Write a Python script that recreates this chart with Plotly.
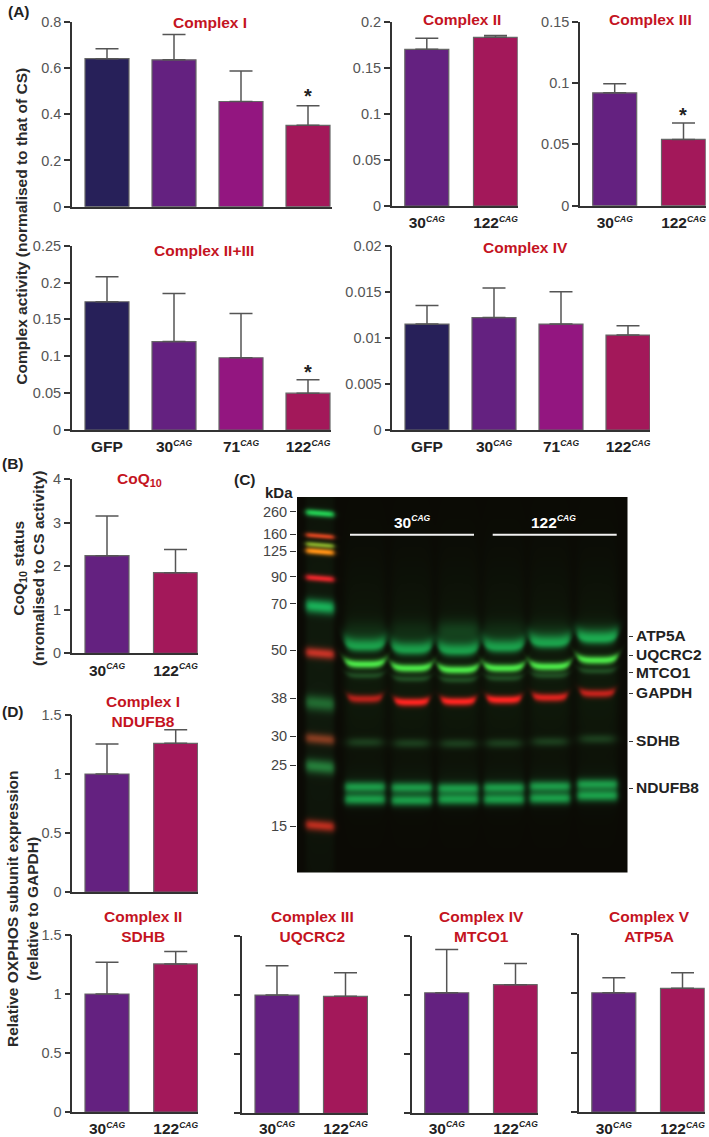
import numpy as np
import plotly.graph_objects as go

W, H = 709, 1137
FONT = "Liberation Sans"
CAG = '<sup><i><span style="font-size:8.5px">CAG</span></i></sup>'

# ---------- data ----------
cats4 = ["GFP", "30" + CAG, "71" + CAG, "122" + CAG]
cats2 = ["30" + CAG, "122" + CAG]
complex1_vals = [0.64, 0.635, 0.455, 0.352]
complex1_errs = [0.043, 0.110, 0.132, 0.085]
complex2_vals = [0.170, 0.183]
complex2_errs = [0.012, 0.002]
complex3_vals = [0.092, 0.054]
complex3_errs = [0.0075, 0.0135]
complex23_vals = [0.174, 0.120, 0.098, 0.050]
complex23_errs = [0.034, 0.065, 0.060, 0.018]
complex4_vals = [0.0115, 0.0122, 0.0115, 0.0103]
complex4_errs = [0.0020, 0.0032, 0.0035, 0.0010]
coq_vals = [2.24, 1.85]
coq_errs = [0.91, 0.53]
ndufb8_vals = [1.0, 1.26]
ndufb8_errs = [0.255, 0.115]
sdhb_vals = [1.0, 1.255]
sdhb_errs = [0.27, 0.105]
uqcrc2_vals = [1.0, 0.99]
uqcrc2_errs = [0.249, 0.20]
mtco1_vals = [1.02, 1.088]
mtco1_errs = [0.365, 0.18]
atp5a_vals = [1.005, 1.042]
atp5a_errs = [0.127, 0.132]
colors4 = ["#272059", "#642180", "#931680", "#A3185A"]
colors2 = ["#642180", "#A3185A"]

kda_labels = ["260", "160", "125", "90", "70", "50", "38", "30", "25", "15"]
kda_rows = [140, 208, 258, 335, 416, 555, 700, 814, 900, 1083]
protein_labels = ["ATP5A", "UQCRC2", "MTCO1", "GAPDH", "SDHB", "NDUFB8"]
protein_rows = [513, 570, 622, 684, 828, 969]

# blot band rows per lane (6 lanes) (zoom pixels)
lane_centres = [405, 545, 685, 822, 960, 1102]
atp5a_rows = [545, 555, 558, 548, 535, 522]
uqcrc2_rows = [598, 610, 615, 610, 605, 586]
mtco1_rows = [632, 642, 645, 640, 632, 618]
gapdh_rows = [702, 712, 710, 705, 698, 686]
gapdh_levels = [0.7, 1.0, 1.0, 1.0, 0.85, 0.75]
sdhb_rows = [832, 835, 836, 835, 830, 822]
ndufb8_hi_rows = [966, 968, 970, 968, 964, 958]
ndufb8_lo_rows = [1003, 1006, 1003, 1003, 1000, 992]
# ladder: row, sigma, r, g, b
ladder = [(145, 2.6, 20, 180, 70), (213, 2.0, 190, 45, 20), (240, 2.0, 110, 140, 30),
          (260, 2.4, 235, 120, 10), (340, 2.4, 210, 15, 30), (425, 5.0, 10, 150, 75),
          (565, 3.8, 180, 25, 25), (715, 5.5, 18, 80, 36), (822, 3.8, 115, 35, 20),
          (905, 5.0, 22, 100, 46), (1082, 3.8, 170, 25, 20)]

# ---------- panel geometry (page pixels) ----------
panels = [
    dict(c=cats4, v=complex1_vals, e=complex1_errs, col=colors4, ax=72, right=332, y0=206.7, yt=21.7, ymax=.8, dt=.2, c0=107, s=67, lab=False),
    dict(c=cats2, v=complex2_vals, e=complex2_errs, col=colors2, ax=391.7, right=517.7, y0=206, yt=21.7, ymax=.2, dt=.05, c0=426.8, s=68.7, lab=True),
    dict(c=cats2, v=complex3_vals, e=complex3_errs, col=colors2, ax=580, right=705.7, y0=205.7, yt=21.7, ymax=.15, dt=.05, c0=614.7, s=68.8, lab=True),
    dict(c=cats4, v=complex23_vals, e=complex23_errs, col=colors4, ax=71.7, right=331, y0=430, yt=245.7, ymax=.25, dt=.05, c0=107, s=67, lab=True),
    dict(c=cats4, v=complex4_vals, e=complex4_errs, col=colors4, ax=392.3, right=650, y0=430, yt=245.7, ymax=.02, dt=.005, c0=427, s=67, lab=True),
    dict(c=cats2, v=coq_vals, e=coq_errs, col=colors2, ax=71.7, right=197.7, y0=653.3, yt=479, ymax=4, dt=1, c0=107, s=68.5, lab=True),
    dict(c=cats2, v=ndufb8_vals, e=ndufb8_errs, col=colors2, ax=72.3, right=198, y0=892, yt=715, ymax=1.5, dt=.5, c0=107, s=68.7, lab=False),
    dict(c=cats2, v=sdhb_vals, e=sdhb_errs, col=colors2, ax=72.3, right=198, y0=1112, yt=935, ymax=1.5, dt=.5, c0=107, s=68.7, lab=True),
    dict(c=cats2, v=uqcrc2_vals, e=uqcrc2_errs, col=colors2, ax=242, right=368, y0=1113.3, yt=936, ymax=1.5, dt=.5, c0=277, s=68.5, lab=True, noy=True, so=0),
    dict(c=cats2, v=mtco1_vals, e=mtco1_errs, col=colors2, ax=412, right=537.7, y0=1113.3, yt=936, ymax=1.5, dt=.5, c0=446.7, s=68.8, lab=True, noy=True, so=0),
    dict(c=cats2, v=atp5a_vals, e=atp5a_errs, col=colors2, ax=579, right=704.7, y0=1112, yt=934, ymax=1.5, dt=.5, c0=613.8, s=68.7, lab=True, noy=True),
]

def px(x):
    return x / W

def py(y):
    return 1 - y / H

fig = go.Figure()
layout = {}
for i, p in enumerate(panels, start=1):
    xn, yn = f"x{i}", f"y{i}"
    fig.add_trace(go.Bar(
        x=p["c"], y=p["v"], width=44 / p["s"], xaxis=xn, yaxis=yn,
        marker=dict(color=p["col"], line=dict(color="#666666", width=1.2)),
        error_y=dict(type="data", symmetric=False, array=p["e"], arrayminus=[0] * len(p["e"]),
                     color="#555555", thickness=1.5, width=11.5),
        hoverinfo="skip",
    ))
    layout[f"xaxis{i}"] = dict(
        domain=[px(p["ax"]), px(p["right"])], anchor=yn, type="category", automargin=False,
        range=[(p["ax"] - p["c0"]) / p["s"], (p["right"] - p["c0"]) / p["s"]],
        showline=True, linecolor="#333333", linewidth=1.5, ticks="", showgrid=False, ticklabelstandoff=p.get("so", 2),
        showticklabels=p["lab"], tickfont=dict(family=FONT, size=15.5, color="#222222", weight="bold"),
        fixedrange=True,
    )
    layout[f"yaxis{i}"] = dict(
        domain=[py(p["y0"]), py(p["yt"])], anchor=xn, range=[0, p["ymax"]], dtick=p["dt"], tick0=0, automargin=False,
        showline=True, linecolor="#333333", linewidth=1.5, ticks="outside", ticklen=6, tickwidth=1.5,
        tickcolor="#333333", showgrid=False, zeroline=False, showticklabels=not p.get("noy", False),
        tickfont=dict(family=FONT, size=14.5, color="#555555"), fixedrange=True,
    )

# ---------- blot ----------
BL, BR, BT, BB = 297, 628, 497, 873
Xs = np.arange(BL, BR) + 0.5
Ys = np.arange(BT, BB) + 0.5
XX, YY = np.meshgrid(Xs, Ys)
img = np.zeros(XX.shape + (3,), dtype=float)
img += np.array([11, 10, 5])

def band(xc, hw, yc, sig, rgb, level=1.0, smile=0.0, tilt=0.0, edge=3.0, sig_up=None):
    u = (XX - xc) / hw
    prof_x = 0.5 * (np.tanh((XX - (xc - hw)) / edge) - np.tanh((XX - (xc + hw)) / edge))
    centre = yc - smile * u ** 4 + tilt * (XX - xc)
    d = YY - centre
    s = np.where(d < 0, sig if sig_up is None else sig_up, sig)
    prof = np.exp(-0.5 * (d / s) ** 2) * prof_x * level
    for k in range(3):
        img[..., k] += prof * rgb[k]

def zx(v):
    return 230 + v / 3

def zy(v):
    return 465 + v / 3

hw = 20
for j, c in enumerate(lane_centres):
    xc = zx(c)
    # lane smear
    band(xc, hw, zy(620), 75, (4, 16, 6), 1.0, edge=5)
    band(xc, hw, zy(500), 8, (4, 26, 12), 0.8 if j != 2 else 1.6, edge=4)
    band(xc, hw, zy(960), 12, (4, 18, 10), 0.6)
    band(xc, hw, zy(atp5a_rows[j]), 3.8, (12, 130, 62), 1.0, smile=5, sig_up=6.0, edge=3.5)
    band(xc, hw, zy(uqcrc2_rows[j]), 3.0, (60, 200, 60), 1.0, smile=4, edge=3.5)
    band(xc, hw - 2, zy(mtco1_rows[j]), 2.4, (16, 46, 22), 1.0, smile=2, edge=4)
    band(xc, hw - 3, zy(gapdh_rows[j]), 3.0, (235, 12, 22), gapdh_levels[j], smile=2.5, edge=3)
    band(xc, hw - 3, zy(sdhb_rows[j]), 3.5, (14, 40, 20), 1.0, edge=6)
    band(xc, hw, zy(ndufb8_hi_rows[j]), 3.9, (14, 125, 58), 1.0, edge=3)
    band(xc, hw, zy(ndufb8_lo_rows[j]), 4.1, (14, 135, 62), 1.0, edge=3)
# ladder lane
band(zx(270), 14, zy(620), 170, (5, 16, 8), 1.0, edge=3)
for row, sig, r, g, b in ladder:
    band(zx(270), 14, zy(row), sig, (r, g, b), 1.0, tilt=0.08, edge=3)
z = np.clip(img, 0, 255).astype(np.uint8)

B = 12
fig.add_trace(go.Image(z=z, x0=BL, dx=1, y0=BT, dy=1, xaxis=f"x{B}", yaxis=f"y{B}", hoverinfo="skip"))
layout[f"xaxis{B}"] = dict(domain=[px(BL), px(BR)], anchor=f"y{B}", range=[BL, BR], visible=False, fixedrange=True, automargin=False)
layout[f"yaxis{B}"] = dict(
    domain=[py(BB), py(BT)], anchor=f"x{B}", range=[BB, BT], showgrid=False, zeroline=False, showline=False, automargin=False,
    tickmode="array", tickvals=[zy(v) for v in kda_rows], ticktext=kda_labels, ticks="outside", ticklen=6,
    tickwidth=1.2, tickcolor="#333333", tickfont=dict(family=FONT, size=14.5, color="#444444"), fixedrange=True,
)
layout[f"yaxis{B + 1}"] = dict(
    domain=[py(BB), py(BT)], anchor=f"x{B}", overlaying=f"y{B}", side="right", range=[BB, BT], automargin=False,
    showgrid=False, zeroline=False, showline=False, tickmode="array",
    tickvals=[zy(v) for v in protein_rows], ticktext=protein_labels, ticks="outside", ticklen=4, tickwidth=1.2,
    tickcolor="#333333", tickfont=dict(family=FONT, size=15.5, color="#222222", weight="bold"), fixedrange=True,
)
fig.add_trace(go.Scatter(x=[BL], y=[BT], mode="markers", marker=dict(opacity=0), xaxis=f"x{B}", yaxis=f"y{B + 1}",
                         hoverinfo="skip"))

# ---------- annotations ----------
anns = []

def note(text, x, y, size=15, color="#222222", bold=True, angle=0, xanchor="center", yanchor="middle"):
    anns.append(dict(text=text, x=px(x), y=py(y), xref="paper", yref="paper", showarrow=False, textangle=angle,
                     xanchor=xanchor, yanchor=yanchor,
                     font=dict(family=FONT, size=size, color=color, weight="bold" if bold else "normal")))

RED = "#C4141F"
for text, x, y in [("Complex I", 210, 22), ("Complex II", 462, 19.5), ("Complex III", 650, 19.5),
                   ("Complex II+III", 204, 250), ("Complex IV", 525, 247.7), ("CoQ<sub>10</sub>", 139, 479),
                   ("Complex I<br>NDUFB8", 142.5, 711), ("Complex II<br>SDHB", 142.5, 927),
                   ("Complex III<br>UQCRC2", 312, 927), ("Complex IV<br>MTCO1", 481.7, 927),
                   ("Complex V<br>ATP5A", 649, 927)]:
    note(text, x, y, size=15.5, color=RED)
for text, x, y in [("(A)", 19, 11), ("(B)", 13, 463), ("(C)", 245, 480), ("(D)", 13, 712)]:
    note(text, x, y, size=15.5, color="#222222")
for x, y in [(308, 96), (683, 115), (308, 372)]:
    note("*", x, y, size=20, color="#222222")
note("Complex activity (normalised to that of CS)", 20.7, 226, size=15.5, angle=-90, color="#2A2A2A")
note("CoQ<sub>10</sub> status<br>(nromalised to CS activity)", 29, 568, size=15.5, angle=-90, color="#2A2A2A")
note("Relative OXPHOS subunit expression<br>(relative to GAPDH)", 23, 909, size=15.5, angle=-90, color="#2A2A2A")
note("kDa", 279, 492, size=15)
note("30" + CAG, 412.7, 522, size=15.5, color="#FFFFFF")
note("122" + CAG, 553, 522, size=15.5, color="#FFFFFF")

shapes = [dict(type="line", xref="paper", yref="paper", x0=px(a), x1=px(b), y0=py(534.7), y1=py(534.7),
               line=dict(color="#F2F2F2", width=2)) for a, b in [(350, 474), (492.7, 616.7)]]

fig.update_layout(width=W, height=H, margin=dict(l=0, r=0, t=0, b=0, pad=0), showlegend=False,
                  paper_bgcolor="white", plot_bgcolor="white", annotations=anns, shapes=shapes,
                  font=dict(family=FONT), **layout)
fig.write_html("out.html", config=dict(displayModeBar=False),
               post_script="document.body.style.margin='0';document.documentElement.style.overflow='hidden';")
